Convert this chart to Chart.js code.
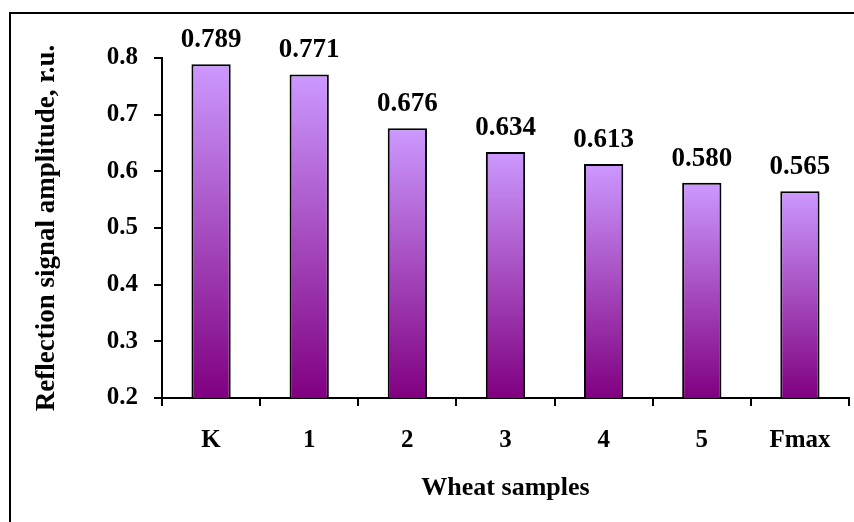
<!DOCTYPE html>
<html lang="en">
<head>
  <meta charset="UTF-8">
  <title>Reflection signal amplitude of wheat samples</title>
  <script src="https://cdn.jsdelivr.net/npm/chart.js"></script>
  <style>
    html, body { margin: 0; padding: 0; background: #fff; }
  </style>
</head>
<body>
  <canvas id="ampChart" width="854" height="522"></canvas>
  <script>
    // chart data
    const samples = ['K', '1', '2', '3', '4', '5', 'Fmax'];
    const amplitudes = [0.789, 0.771, 0.676, 0.634, 0.613, 0.580, 0.565];
    const yTicks = [0.2, 0.3, 0.4, 0.5, 0.6, 0.7, 0.8];

    Chart.defaults.font.family = "'Liberation Serif', 'Times New Roman', serif";
    Chart.defaults.font.weight = 'bold';
    Chart.defaults.color = '#000';

    // each bar gets its own light-to-dark purple fill
    function barGradient(ctx) {
      const chart = ctx.chart;
      const y = chart.scales.y;
      if (!chart.chartArea || ctx.raw === undefined) return '#a66bd6';
      const top = y.getPixelForValue(ctx.raw);
      const bottom = y.getPixelForValue(y.min);
      const g = chart.ctx.createLinearGradient(0, top, 0, bottom);
      g.addColorStop(0, '#cc99ff');
      g.addColorStop(1, '#800080');
      return g;
    }

    // value above each bar
    const valueLabels = {
      id: 'valueLabels',
      afterDatasetsDraw(chart) {
        const c = chart.ctx;
        c.save();
        c.font = "bold 27px 'Liberation Serif', 'Times New Roman', serif";
        c.fillStyle = '#000';
        c.textAlign = 'center';
        c.textBaseline = 'alphabetic';
        chart.getDatasetMeta(0).data.forEach((bar, i) => {
          c.fillText(amplitudes[i].toFixed(3), bar.x, bar.y - 17);
        });
        c.restore();
      }
    };

    // outer frame of the figure (only top and left edges fall inside the picture)
    const frame = {
      id: 'frame',
      afterDraw(chart) {
        const c = chart.ctx;
        c.save();
        c.strokeStyle = '#000';
        c.lineWidth = 2;
        c.beginPath();
        c.moveTo(10, chart.height);
        c.lineTo(10, 13);
        c.lineTo(chart.width, 13);
        c.stroke();
        c.restore();
      }
    };

    new Chart(document.getElementById('ampChart'), {
      type: 'bar',
      data: {
        labels: samples,
        datasets: [{
          data: amplitudes,
          backgroundColor: barGradient,
          borderColor: '#000',
          borderWidth: 2,
          barPercentage: 0.4,
          categoryPercentage: 1.0
        }]
      },
      options: {
        responsive: false,
        animation: false,
        layout: { padding: { top: 58, right: 5, left: 0, bottom: 0 } },
        plugins: { legend: { display: false }, tooltip: { enabled: false } },
        scales: {
          x: {
            afterFit: s => { s.height = 124; },
            grid: { offset: true, drawOnChartArea: false, tickLength: 8, color: '#000', lineWidth: 2 },
            border: { color: '#000', width: 2 },
            ticks: { font: { size: 25 }, padding: 20, color: '#000' },
            title: { display: true, text: 'Wheat samples', font: { size: 26 }, padding: { bottom: 18 }, color: '#000' }
          },
          y: {
            min: 0.2,
            max: 0.8,
            afterFit: s => { s.width = 162; },
            afterBuildTicks: s => { s.ticks = yTicks.map(v => ({ value: v })); },
            grid: { drawOnChartArea: false, tickLength: 8, color: '#000', lineWidth: 2 },
            border: { color: '#000', width: 2 },
            ticks: { font: { size: 25 }, padding: 16, color: '#000', callback: v => v.toFixed(1) },
            title: { display: true, text: 'Reflection signal amplitude, r.u.', font: { size: 27 }, padding: { top: 31 }, color: '#000' }
          }
        }
      },
      plugins: [valueLabels, frame]
    });
  </script>
</body>
</html>
